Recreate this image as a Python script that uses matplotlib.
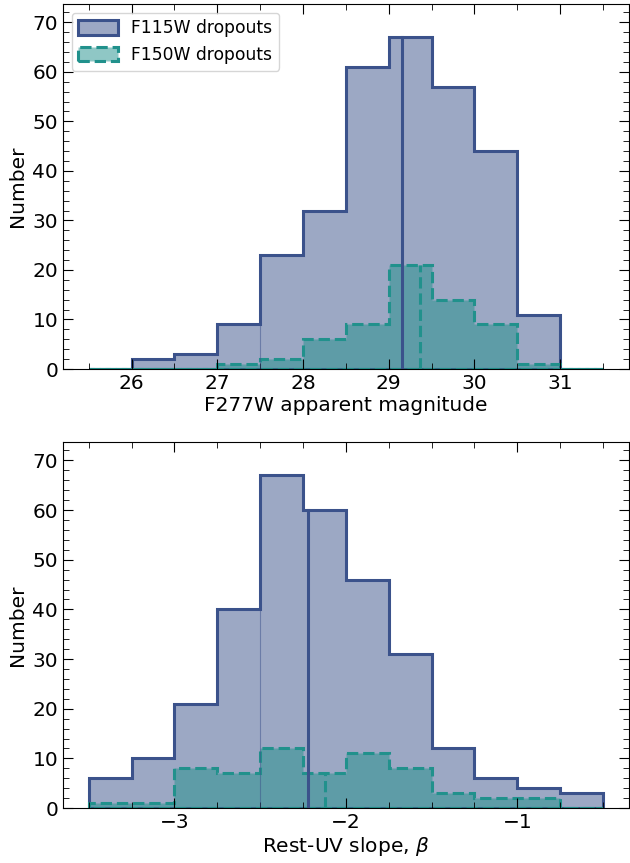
import numpy as np
import matplotlib
matplotlib.use("Agg")
import matplotlib.pyplot as plt
from matplotlib.ticker import AutoMinorLocator, MultipleLocator

# binned counts
mag_edges = np.arange(25.5, 31.51, 0.5)
mag_f115 = [0, 2, 3, 9, 23, 32, 61, 67, 57, 44, 11, 0]
mag_f150 = [0, 0, 0, 1, 2, 6, 9, 21, 14, 9, 1, 0]
mag_med = [29.16, 29.36]

beta_edges = np.arange(-3.5, -0.49, 0.25)
beta_f115 = [6, 10, 21, 40, 67, 60, 46, 31, 12, 6, 4, 3]
beta_f150 = [1, 1, 8, 7, 12, 7, 11, 8, 3, 2, 2, 0]
beta_med = [-2.22, -2.12]

c1 = '#3b528b'
c2 = '#21918c'

plt.rcParams['font.family'] = 'DejaVu Sans'
plt.rcParams['font.size'] = 14.5

fig = plt.figure(figsize=(6.3, 8.63), dpi=100)
ax1 = fig.add_axes([0.1, 0.5724, 0.898, 0.423])
ax2 = fig.add_axes([0.1, 0.0637, 0.898, 0.4241])


def panel(ax, edges, n1, n2, meds, xlabel, nminor):
    ax.hist(edges[:-1], bins=edges, weights=n1, histtype='stepfilled',
            facecolor=matplotlib.colors.to_rgba(c1, 0.5), edgecolor=c1,
            lw=2.2, label='F115W dropouts')
    # faint seam seen in the original fill
    ax.plot([edges[4], edges[4]], [0, n1[3]], color=c1, lw=0.8, alpha=0.5)
    ax.hist(edges[:-1], bins=edges, weights=n2, histtype='stepfilled',
            facecolor=matplotlib.colors.to_rgba(c2, 0.5), edgecolor=c2,
            lw=2.2, ls='--', label='F150W dropouts')
    i = np.searchsorted(edges, meds[0]) - 1
    ax.plot([meds[0], meds[0]], [0, n1[i]], color=c1, lw=2.2)
    j = np.searchsorted(edges, meds[1]) - 1
    ax.plot([meds[1], meds[1]], [0, n2[j]], color=c2, lw=2.2, ls='--')
    ax.set_ylim(0, 1.1 * max(n1))
    ax.set_xlabel(xlabel, labelpad=2)
    ax.set_ylabel('Number', labelpad=4)
    ax.xaxis.set_major_locator(MultipleLocator(1))
    ax.xaxis.set_minor_locator(AutoMinorLocator(nminor))
    ax.yaxis.set_minor_locator(AutoMinorLocator(5))
    ax.tick_params(which='both', direction='in', top=True, right=True)
    ax.tick_params(which='major', length=7)
    ax.tick_params(which='minor', length=4)


panel(ax1, mag_edges, mag_f115, mag_f150, mag_med, 'F277W apparent magnitude', 2)
panel(ax2, beta_edges, beta_f115, beta_f150, beta_med, r'Rest-UV slope, $\beta$', 4)
ax1.legend(loc='upper left', fontsize=12.3, handlelength=2.3, handleheight=0.9)

fig.savefig('out.png', dpi=100)
